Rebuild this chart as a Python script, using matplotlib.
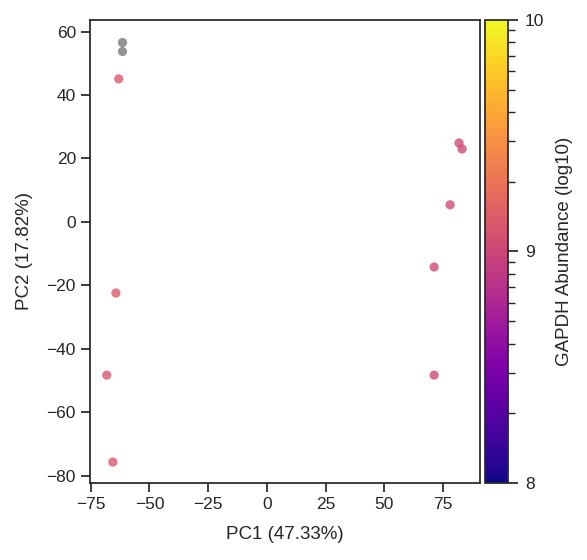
import numpy as np
import matplotlib
matplotlib.use('Agg')
import matplotlib.pyplot as plt
from matplotlib.colors import LogNorm
from matplotlib.ticker import FuncFormatter, NullFormatter, LogLocator
import seaborn as sns

# PCA scores (PC1, PC2) and GAPDH abundance (log10, nan = missing)
pc1 = [-61.8, -61.8, -63.1, -64.3, -68.2, -65.6, 81.8, 83.1, 78.0, 71.2, 71.2]
pc2 = [56.8, 53.9, 45.1, -22.4, -48.3, -75.7, 24.9, 23.0, 5.4, -14.2, -48.3]
gapdh_log10 = [np.nan, np.nan, 9.12, 9.12, 9.12, 9.12, 9.03, 9.03, 9.03, 9.03, 9.03]

pc1_var = 47.33
pc2_var = 17.82

sns.set_theme(style='ticks', context='notebook')
plt.rcParams['font.family'] = ['Liberation Sans', 'DejaVu Sans']
plt.rcParams['xtick.labelsize'] = 12.5
plt.rcParams['ytick.labelsize'] = 12.5
plt.rcParams['axes.labelsize'] = 13.5
plt.rcParams['xtick.major.size'] = 6.5
plt.rcParams['ytick.major.size'] = 6.5

fig = plt.figure(figsize=(5.87, 5.6), dpi=100)
ax = fig.add_axes([0.153, 0.1375, 0.665, 0.827])
cax = fig.add_axes([0.826, 0.1375, 0.039, 0.827])

x = np.array(pc1)
y = np.array(pc2)
abund = 10 ** np.array(gapdh_log10)
missing = np.isnan(abund)

norm = LogNorm(vmin=1e8, vmax=1e10)
ax.scatter(x[missing], y[missing], s=44, color='grey', alpha=0.85, linewidth=0)
sc = ax.scatter(x[~missing], y[~missing], c=abund[~missing], cmap='plasma',
                norm=norm, s=44, alpha=0.8, linewidth=0)

ax.set_xlim(-75.4, 90.8)
ax.set_ylim(-82.3, 63.7)
ax.set_xticks([-75, -50, -25, 0, 25, 50, 75])
ax.set_yticks([60, 40, 20, 0, -20, -40, -60, -80])
ax.set_xlabel(f'PC1 ({pc1_var:.2f}%)', labelpad=10)
ax.set_ylabel(f'PC2 ({pc2_var:.2f}%)', labelpad=10)

cb = fig.colorbar(sc, cax=cax)
cb.solids.set_alpha(1)
cb.ax.yaxis.set_major_locator(LogLocator(base=10))
cb.ax.yaxis.set_major_formatter(FuncFormatter(lambda v, p: f'{np.log10(v):.0f}'))
cb.ax.yaxis.set_minor_formatter(NullFormatter())
cb.ax.tick_params(which='major', length=7.5, pad=5)
cb.ax.tick_params(which='minor', length=5)
cb.set_label('GAPDH Abundance (log10)', labelpad=8)

fig.savefig('out.png', dpi=100)
